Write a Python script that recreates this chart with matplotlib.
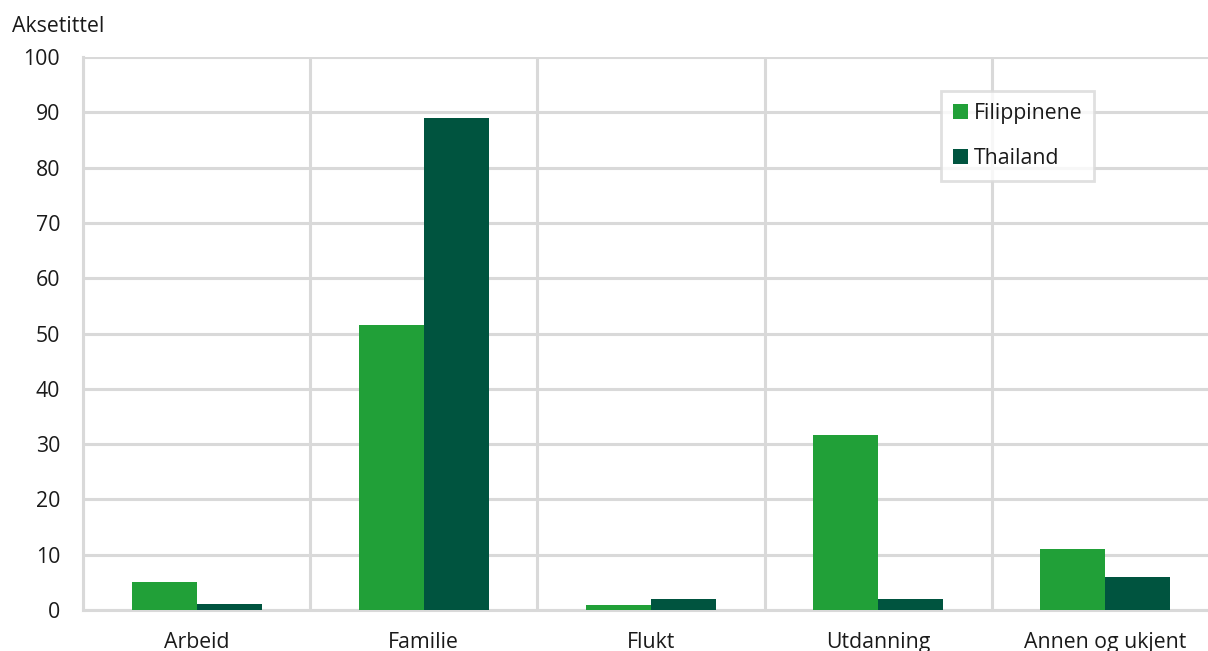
import matplotlib.pyplot as plt
import numpy as np

categories = ["Arbeid", "Familie", "Flukt", "Utdanning", "Annen og ukjent"]
filippinene = [5.0, 51.5, 0.9, 31.6, 11.0]
thailand = [1.0, 89.0, 2.0, 2.0, 6.0]
yticks = [0, 10, 20, 30, 40, 50, 60, 70, 80, 90, 100]

plt.rcParams['font.family'] = ['Open Sans', 'DejaVu Sans']

W, H = 1208, 651
fs = 15.3
fig = plt.figure(figsize=(W / 100, H / 100), dpi=100)
# axes runs a little past the right edge, like the original
ax = fig.add_axes([83 / W, 1 - 610 / H, (1219 - 83) / W, (610 - 57) / H])

grid_col = "#d9d9d9"
x = np.arange(len(categories))
bw = 1 / 3.5

ax.bar(x - bw / 2, filippinene, bw, color="#21a038", label="Filippinene", zorder=3)
ax.bar(x + bw / 2, thailand, bw, color="#00543f", label="Thailand", zorder=3)

ax.set_xlim(-0.5, len(categories) - 0.5)
ax.set_ylim(0, 100)
ax.set_yticks(yticks)
ax.set_xticks(x)
ax.set_xticklabels(categories)

# category separators + horizontal grid
ax.set_xticks(np.arange(len(categories) + 1) - 0.5, minor=True)
ax.grid(axis="y", which="major", color=grid_col, linewidth=2.2, zorder=0)
ax.grid(axis="x", which="minor", color=grid_col, linewidth=2.2, zorder=0)
ax.grid(axis="x", which="major", visible=False)

for s in ["top", "right"]:
    ax.spines[s].set_visible(False)
ax.spines["left"].set_color(grid_col)
ax.spines["left"].set_linewidth(2.2)
ax.spines["bottom"].set_color(grid_col)
ax.spines["bottom"].set_linewidth(2.2)

ax.tick_params(axis="both", which="both", length=0, labelsize=fs, colors="#1a1a1a")
ax.tick_params(axis="y", pad=16.5)
ax.tick_params(axis="x", pad=15.5)

fig.text(12 / W, 1 - 27 / H, "Aksetittel", fontsize=fs, color="#1a1a1a", va="center", ha="left")

leg = ax.legend(loc="upper left", bbox_to_anchor=((941 - 83) / (1219 - 83), 1 - (91 - 57) / (610 - 57)),
                fontsize=fs, frameon=True, fancybox=False, handlelength=0.7, handleheight=0.7,
                handletextpad=0.3, labelspacing=1.15, borderpad=0.55, borderaxespad=0)
leg.get_frame().set_edgecolor(grid_col)
leg.get_frame().set_linewidth(2)
for t in leg.get_texts():
    t.set_color("#1a1a1a")

fig.savefig("out.png", dpi=100)
